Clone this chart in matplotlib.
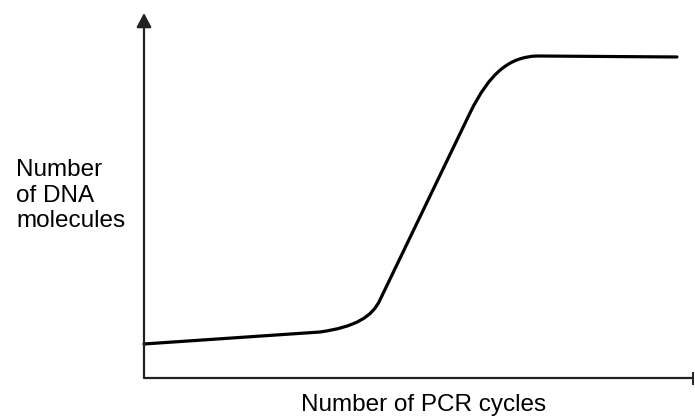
import matplotlib.pyplot as plt
from matplotlib.path import Path
from matplotlib.patches import PathPatch

plt.rcParams['font.family'] = ['Liberation Sans', 'DejaVu Sans']

# curve vertices (knots + bezier controls)
cycles =    [0.0, 12.82, 15.37, 16.61, 17.19, 23.75, 25.21, 26.67, 28.63, 38.83]
molecules = [9.32, 12.60, 13.97, 16.71, 21.37, 72.60, 83.84, 87.95, 88.22, 87.95]
codes = [Path.MOVETO, Path.LINETO,
         Path.CURVE4, Path.CURVE4, Path.CURVE4,
         Path.LINETO,
         Path.CURVE4, Path.CURVE4, Path.CURVE4,
         Path.LINETO]

ylabel_lines = ['Number', 'of DNA', 'molecules']
xlabel = 'Number of PCR cycles'

W, H = 695, 419
fig = plt.figure(figsize=(W / 100, H / 100), dpi=100)
ax = fig.add_axes([144 / W, 41 / H, 549 / W, 365 / H])
ax.set_xlim(0, 40)
ax.set_ylim(0, 100)
ax.axis('off')

path = Path(list(zip(cycles, molecules)), codes)
ax.add_patch(PathPatch(path, facecolor='none', edgecolor='black', lw=2.3,
                       capstyle='round', joinstyle='round', clip_on=False))

# y axis with arrow head
ax.annotate('', xy=(0, 1.0), xytext=(0, 0), xycoords='axes fraction',
            arrowprops=dict(arrowstyle='-|>,head_length=0.85,head_width=0.45',
                            color='#222222', lw=1.6, shrinkA=0, shrinkB=0))
# x axis, cut off at the right edge
ax.plot([0, 1], [0, 0], transform=ax.transAxes, color='#222222', lw=1.6,
        clip_on=False, solid_capstyle='butt')
ax.plot([1, 1], [-5.5 / 365, 5.5 / 365], transform=ax.transAxes,
        color='#222222', lw=1.4, clip_on=False)

for i, line in enumerate(ylabel_lines):
    fig.text(16 / W, 1 - (176 + 25.5 * i) / H, line, fontsize=17.5,
             ha='left', va='baseline')
fig.text(423.5 / W, 1 - 411 / H, xlabel, fontsize=17.5,
         ha='center', va='baseline')

fig.savefig('out.png', dpi=100)
